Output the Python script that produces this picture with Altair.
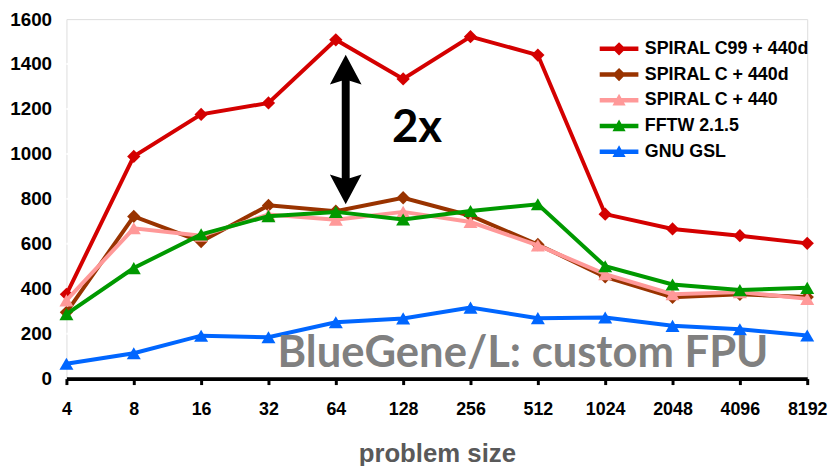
import altair as alt
import pandas as pd

sizes = ["4", "8", "16", "32", "64", "128", "256", "512", "1024", "2048", "4096", "8192"]
series = ["SPIRAL C99 + 440d", "SPIRAL C + 440d", "SPIRAL C + 440", "FFTW 2.1.5", "GNU GSL"]
colors = ["#d40000", "#993300", "#ff9999", "#009900", "#0066ff"]
markers = ["diamond", "diamond", "triangle-up", "triangle-up", "triangle-up"]
marker_sizes = [180, 180, 200, 200, 200]

spiral_c99_440d = [375, 989, 1176, 1227, 1508, 1334, 1522, 1440, 732, 666, 636, 602]
spiral_c_440d = [295, 722, 610, 771, 745, 805, 725, 597, 453, 362, 375, 363]
spiral_c_440 = [348, 669, 636, 730, 707, 742, 697, 593, 465, 376, 385, 355]
fftw_215 = [287, 492, 642, 723, 742, 708, 746, 776, 500, 419, 394, 404]
gnu_gsl = [66, 113, 191, 184, 251, 268, 316, 269, 272, 235, 220, 192]
values = [spiral_c99_440d, spiral_c_440d, spiral_c_440, fftw_215, gnu_gsl]

y_ticks = [0, 200, 400, 600, 800, 1000, 1200, 1400, 1600]
grid_full = [200, 400, 600, 800]      # gridlines running across the whole plot
grid_short = [1000, 1200, 1400]       # gridlines hidden behind the legend box

# legend symbols: a short line with the marker on it
STUB = "M-2.79,-0.32L2.79,-0.32L2.79,0.32L-2.79,0.32Z "
legend_paths = [
    STUB + "M0,-0.95L0.95,0L0,0.95L-0.95,0Z",
    STUB + "M0,-0.95L0.95,0L0,0.95L-0.95,0Z",
    STUB + "M0,-0.95L0.95,0.75L-0.95,0.75Z",
    STUB + "M0,-0.95L0.95,0.75L-0.95,0.75Z",
    STUB + "M0,-0.95L0.95,0.75L-0.95,0.75Z",
]

# annotations
arrow_size = ["64"]
arrow_top = [1375]
arrow_bottom = [842]
ratio_label = ["2x"]
ratio_pos = ["128"]
ratio_value = [1054]
machine_label = ["BlueGene/L: custom FPU"]
machine_pos = ["512"]
machine_value = [53]

rows = []
for s, vals in zip(series, values):
    for sz, v in zip(sizes, vals):
        rows.append({"series": s, "size": sz, "value": v})
df = pd.DataFrame(rows)

ARIAL = "Liberation Sans"
CALIBRI = "Lato"
BG = "#dcdcdc"

x_axis = alt.Axis(
    title="problem size", labelAngle=0, labelFont=ARIAL, labelFontSize=18,
    labelFontWeight="bold", labelColor="black", labelPadding=16,
    domainColor="black", domainWidth=4, tickColor="black", tickWidth=3, tickSize=6,
    grid=False, titleFont=ARIAL, titleFontSize=26, titleFontWeight="bold",
    titleColor="#595959", titlePadding=23,
)
y_axis = alt.Axis(
    title=None, values=y_ticks, format="d",
    labelFont=ARIAL, labelFontSize=19, labelFontWeight="bold", labelColor="black",
    labelPadding=15, domain=False, ticks=False, grid=False,
)

X = alt.X("size:O", sort=sizes, scale=alt.Scale(type="point", domain=sizes, padding=0), axis=x_axis)
Y = alt.Y("value:Q", scale=alt.Scale(domain=[0, 1600], nice=False), axis=y_axis)
color_scale = alt.Scale(domain=series, range=colors)

# gridlines
gf_df = pd.DataFrame({"value": grid_full, "size": [sizes[0]] * len(grid_full),
                      "size2": [sizes[-1]] * len(grid_full)})
gs_df = pd.DataFrame({"value": grid_short, "size": [sizes[0]] * len(grid_short),
                      "size2": ["1024"] * len(grid_short)})
grid_a = alt.Chart(gf_df).mark_rule(color="white", strokeWidth=2).encode(x=X, x2="size2:O", y=Y)
grid_b = alt.Chart(gs_df).mark_rule(color="white", strokeWidth=2, x2Offset=-13).encode(
    x=X, x2="size2:O", y=Y)

legend = alt.Legend(
    title=None, orient="none", legendX=546, legendY=18, padding=3,
    labelFont=ARIAL, labelFontSize=18, labelFontWeight="bold",
    labelColor="black", labelLimit=400, symbolSize=196, labelOffset=17,
    rowPadding=8, symbolStrokeWidth=0, symbolOpacity=1,
)
legend_layer = alt.Chart(df).transform_filter("false").mark_point(filled=True, opacity=1).encode(
    x=X, y=Y,
    color=alt.Color("series:N", scale=color_scale, legend=legend),
    shape=alt.Shape("series:N", scale=alt.Scale(domain=series, range=legend_paths), legend=legend),
)

layers = [grid_a, grid_b, legend_layer]
for s, c, mk, ms in zip(series, colors, markers, marker_sizes):
    base = alt.Chart(df).transform_filter(alt.datum.series == s)
    layers.append(base.mark_line(strokeWidth=4, color=c).encode(x=X, y=Y))
    layers.append(base.mark_point(shape=mk, size=ms, filled=True, opacity=1, color=c).encode(x=X, y=Y))

arrow_df = pd.DataFrame({"size": arrow_size, "value": arrow_top, "value2": arrow_bottom})
shaft = alt.Chart(arrow_df).mark_rule(color="black", strokeWidth=8, xOffset=10).encode(
    x=X, y=Y, y2="value2:Q")
head_up = alt.Chart(arrow_df).mark_point(
    shape="M0,-0.94L1,0.94L0.25,0.7L-0.25,0.7L-1,0.94Z", size=1024, filled=True,
    opacity=1, color="black", xOffset=10).encode(x=X, y=Y)
head_down = alt.Chart(arrow_df).mark_point(
    shape="M0,0.94L1,-0.94L0.25,-0.7L-0.25,-0.7L-1,-0.94Z", size=1024, filled=True,
    opacity=1, color="black", xOffset=10).encode(
    x=X, y=alt.Y("value2:Q", scale=alt.Scale(domain=[0, 1600], nice=False), axis=y_axis))

ratio_df = pd.DataFrame({"size": ratio_pos, "value": ratio_value, "label": ratio_label})
ratio_text = alt.Chart(ratio_df).mark_text(
    font=CALIBRI, fontSize=46, fontWeight="bold", color="black", dx=14,
    align="center", baseline="alphabetic").encode(x=X, y=Y, text="label:N")

machine_df = pd.DataFrame({"size": machine_pos, "value": machine_value, "label": machine_label})
machine_text = alt.Chart(machine_df).mark_text(
    font=CALIBRI, fontSize=44, fontWeight="bold", color="#808080", dx=-15,
    align="center", baseline="alphabetic").encode(x=X, y=Y, text="label:N")

chart = alt.layer(
    *layers, shaft, head_up, head_down, ratio_text, machine_text
).properties(
    width=748, height=363,
    padding={"left": 59, "top": 9, "right": 23, "bottom": 86},
    autosize=alt.AutoSizeParams(type="none"),
).configure_view(
    fill=BG, fillOpacity=1, opacity=1, stroke="transparent"
).configure(background="white")

chart.save("out.html", embed_options={"renderer": "svg", "actions": False})
